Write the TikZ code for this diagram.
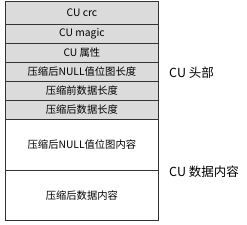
\documentclass[tikz,border=0pt]{standalone}
\usepackage{fontspec}
\setmainfont{Noto Sans CJK SC}
\begin{document}
\begin{tikzpicture}[x=1pt,y=-1pt,
  hdr/.style={draw=black!80,line width=0.8pt,fill=gray!28,minimum width=153pt,inner sep=0pt,font=\fontsize{10.3}{12}\selectfont,anchor=north west},
  dat/.style={draw=black!80,line width=0.8pt,fill=white,minimum width=153pt,inner sep=0pt,font=\fontsize{10.3}{12}\selectfont,anchor=north west},
  lbl/.style={font=\fontsize{12.5}{14}\selectfont,anchor=west,inner sep=0pt}]
\useasboundingbox (0,0) rectangle (247,225);
\node[hdr,minimum height=23pt] (r1) at (5,1) {CU crc};
\node[hdr,minimum height=19pt] (r2) at (5,24) {CU magic};
\node[hdr,minimum height=19pt] (r3) at (5,43) {CU 属性};
\node[hdr,minimum height=19pt] (r4) at (5,62) {压缩后NULL值位图长度};
\node[hdr,minimum height=19pt] (r5) at (5,81) {压缩前数据长度};
\node[hdr,minimum height=19pt] (r6) at (5,100) {压缩后数据长度};
\node[dat,minimum height=51pt] (r7) at (5,119) {压缩后NULL值位图内容};
\node[dat,minimum height=50pt] (r8) at (5,170) {压缩后数据内容};
\node[lbl] (l1) at (169,72.5) {CU 头部};
\node[lbl] (l2) at (169,171.5) {CU 数据内容};
\end{tikzpicture}
\end{document}
